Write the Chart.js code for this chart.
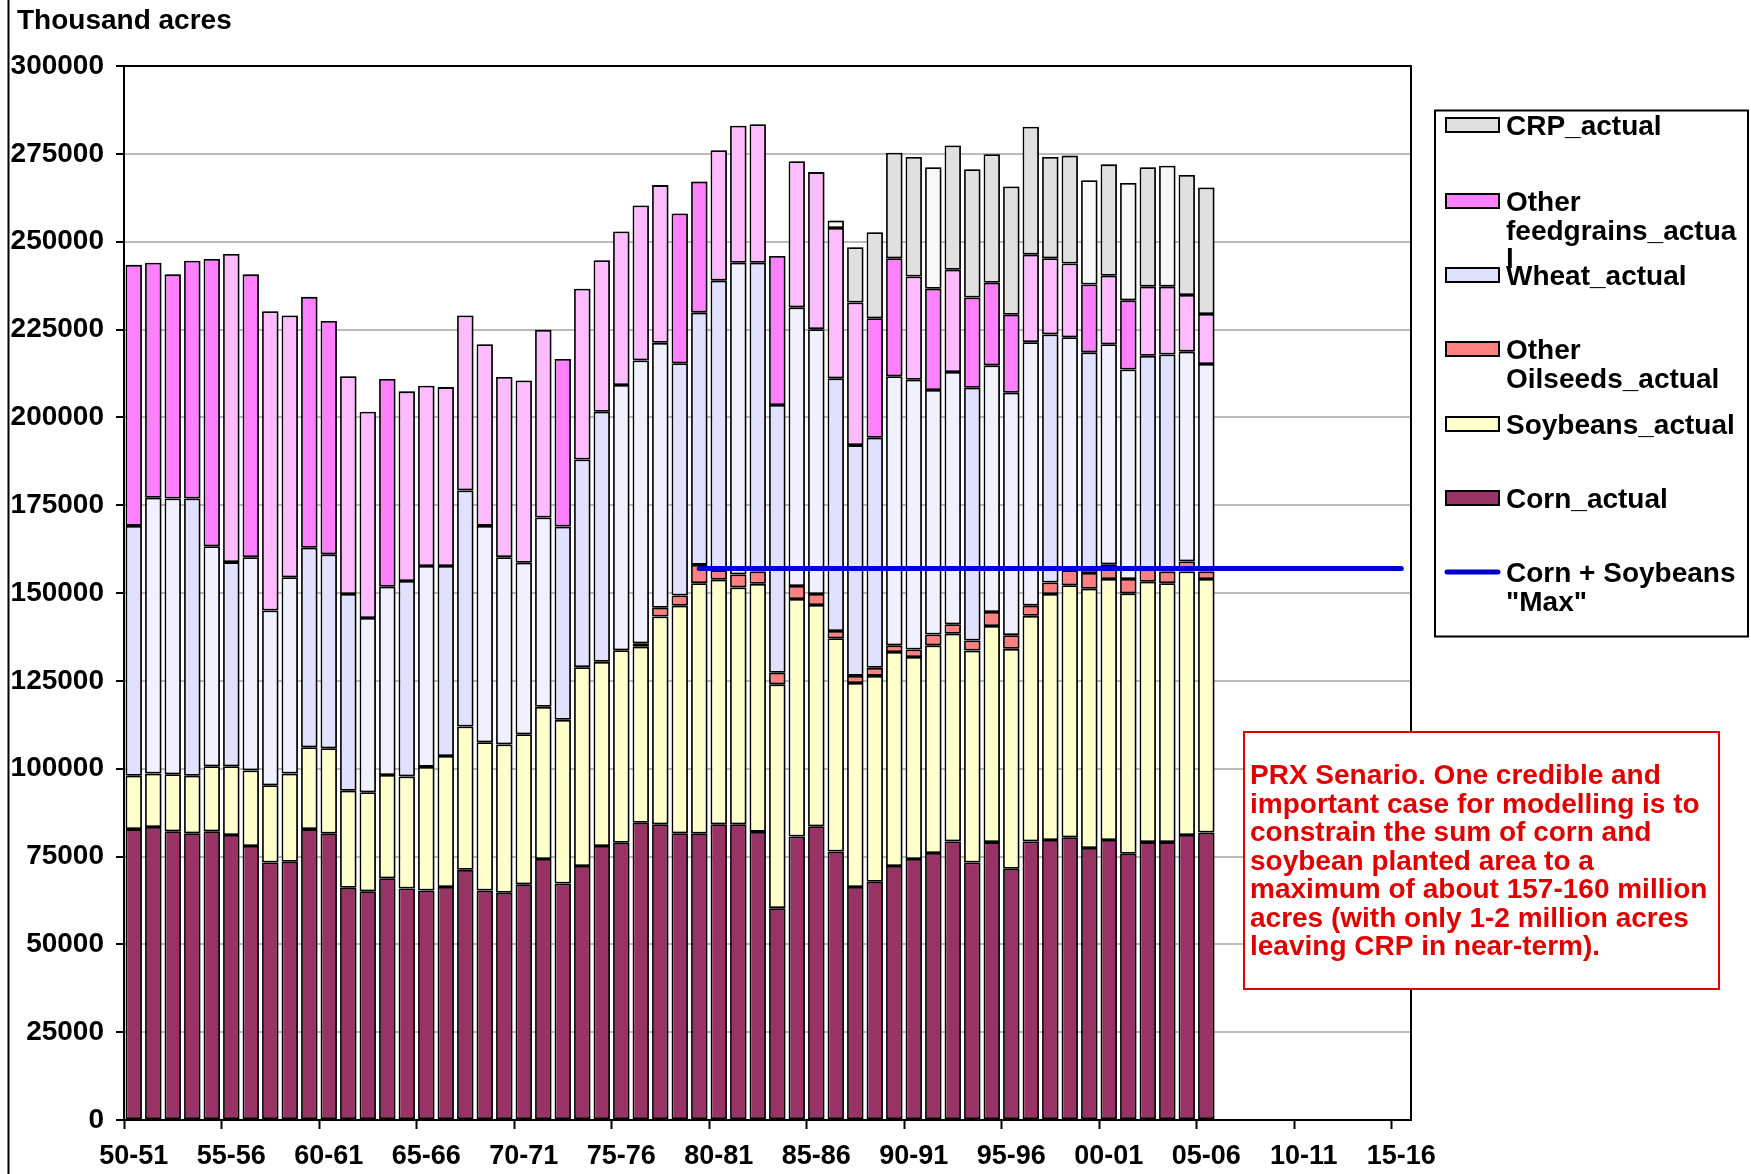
<!DOCTYPE html>
<html>
<head>
<meta charset="utf-8">
<title>Planted area</title>
<script src="https://cdn.jsdelivr.net/npm/chart.js@4.4.1/dist/chart.umd.min.js"></script>
<style>
  html, body { margin: 0; padding: 0; background: #fff; }
  #wrap { width: 1751px; height: 1174px; }
</style>
</head>
<body>
<div id="wrap"><canvas id="chart" width="1751" height="1174"></canvas></div>
<script>
// crop years on the x axis (bars only up to 05-06)
const seasons = ['50-51','51-52','52-53','53-54','54-55','55-56','56-57','57-58','58-59','59-60',
  '60-61','61-62','62-63','63-64','64-65','65-66','66-67','67-68','68-69','69-70',
  '70-71','71-72','72-73','73-74','74-75','75-76','76-77','77-78','78-79','79-80',
  '80-81','81-82','82-83','83-84','84-85','85-86','86-87','87-88','88-89','89-90',
  '90-91','91-92','92-93','93-94','94-95','95-96','96-97','97-98','98-99','99-00',
  '00-01','01-02','02-03','03-04','04-05','05-06','06-07','07-08','08-09','09-10',
  '10-11','11-12','12-13','13-14','14-15','15-16'];

// thousand acres
const corn = [82800,83400,82200,81600,82200,81100,78000,73300,73500,82800,
  81500,66100,65100,68800,65900,65300,66300,71200,65300,64700,
  67100,74300,67300,72300,78000,78900,84600,84200,81600,81500,
  84200,84200,82000,60300,80700,83600,76400,66300,67800,72300,
  74300,76000,79300,73300,79100,71500,79300,79700,80500,77400,
  79700,75800,79100,79100,81100,81800];

const soybeans = [15200,15200,16200,16400,18500,19600,21500,22000,25100,23300,
  24300,27600,28200,29400,31900,35200,37300,40800,42200,42200,
  42700,43300,46600,56600,52400,54800,50100,59100,64800,71300,
  69600,67400,70600,63700,67600,63000,60700,58100,58600,60900,
  57500,59100,59100,60300,61500,62600,64200,70000,71700,73800,
  74300,74100,74100,73700,75000,72200];

const otherOilseeds = [null,null,null,null,null,null,null,null,null,null,
  null,null,null,null,null,null,null,null,null,null,
  null,null,null,null,null,null,1000,2500,2900,5200,
  2700,3700,3500,3300,3700,3100,2100,2000,2300,1900,
  2100,3100,2700,2900,4000,3900,2900,3300,4300,4500,
  4200,4100,3500,3300,2900,2100];

const wheat = [71100,78500,78500,78900,62600,58100,60700,49700,55900,56800,
  55200,56000,49600,53600,55600,57200,54100,67200,61600,53300,
  48800,53900,55000,59100,71200,75500,80500,75400,66100,71800,
  82400,88700,87900,76200,79300,75400,71900,65700,65500,76600,
  76800,69600,71800,71900,70200,69000,75000,70600,66300,62800,
  62600,59600,60800,61800,59700,59100];

const otherFeedgrains = [74300,66900,63800,67700,81800,87700,80500,85200,74500,71400,
  66400,62000,58700,59100,54000,51300,50900,49800,51700,51300,
  51900,53400,47700,48600,43100,43700,44100,44900,42600,37300,
  37100,39000,39400,42400,41600,44700,42800,40600,34000,33600,
  29400,28800,29100,25700,23500,22200,24900,21700,21000,19300,
  19500,19700,19700,19300,16100,14200];

const crp = [null,null,null,null,null,null,null,null,null,null,
  null,null,null,null,null,null,null,null,null,null,
  null,null,null,null,null,null,null,null,null,null,
  null,null,null,null,null,null,2100,15700,24500,30000,
  34000,34600,35400,36500,36600,36500,36400,28800,30700,29700,
  31700,33400,34000,34400,34200,36000];

const cornSoyMax = [null,null,null,null,null,null,null,null,null,null,
  null,null,null,null,null,null,null,null,null,null,
  null,null,null,null,null,null,null,null,null,157000,
  157000,157000,157000,157000,157000,157000,157000,157000,157000,157000,
  157000,157000,157000,157000,157000,157000,157000,157000,157000,157000,
  157000,157000,157000,157000,157000,157000,157000,157000,157000,157000,
  157000,157000,157000,157000,157000,157000];

const yTicks = [0,25000,50000,75000,100000,125000,150000,175000,200000,225000,250000,275000,300000];

const noteLines = ['PRX Senario. One credible and',
  'important case for modelling is to',
  'constrain the sum of corn and',
  'soybean planted area to a',
  'maximum of about 157-160 million',
  'acres (with only 1-2 million acres',
  'leaving CRP in near-term).'];

// the original file shades some bars a little lighter / darker
const feedPale = [5,7,8,11,12,14,15,16,17,18,19,20,21,23,24,25,26,27,30,31,32,34,35,36,37,40,42,46,47,48,50,52,53,54,55];
const wheatDeep = [0,3,5,9,10,11,14,16,17,22,23,24,28,29,30,32,33,36,37,38,43,47,49,52,53];
const crpPale = [36,41,49,51,53];

const FONT = '"Liberation Sans", Arial, sans-serif';
const pick = (list, yes, no) => (c) => list.includes(c.dataIndex) ? yes : no;

const barStyle = {
  type: 'bar',
  order: 1,
  borderColor: '#000',
  borderWidth: 1.8,
  borderSkipped: false,
  barPercentage: 0.84,
  categoryPercentage: 1
};

// bar shadow, like the excel original
const barShadow = {
  id: 'barShadow',
  beforeDatasetDraw(chart, args) {
    if (args.meta.type !== 'bar') return;
    const c = chart.ctx;
    c.save();
    c.shadowColor = 'rgba(0,0,0,0.4)';
    c.shadowOffsetX = 2.5;
    c.shadowOffsetY = 0;
    c.shadowBlur = 0;
  },
  afterDatasetDraw(chart, args) {
    if (args.meta.type !== 'bar') return;
    chart.ctx.restore();
  }
};

const legendItems = [
  { lines: ['CRP_actual'], fill: '#E0E0E0', y: 125 },
  { lines: ['Other', 'feedgrains_actua', 'l'], fill: '#FF80FF', y: 201 },
  { lines: ['Wheat_actual'], fill: '#E0E0FF', y: 275 },
  { lines: ['Other', 'Oilseeds_actual'], fill: '#FF8080', y: 349 },
  { lines: ['Soybeans_actual'], fill: '#FFFFCC', y: 424 },
  { lines: ['Corn_actual'], fill: '#993366', y: 498 },
  { lines: ['Corn + Soybeans', '"Max"'], line: '#0000CC', y: 572 }
];

const decor = {
  id: 'decor',
  beforeDraw(chart) {
    const c = chart.ctx;
    c.save();
    c.fillStyle = '#fff';
    c.fillRect(0, 0, chart.width, chart.height);
    c.restore();
  },
  afterDraw(chart) {
    const c = chart.ctx;
    const a = chart.chartArea;
    c.save();

    // frame of the plot area
    c.strokeStyle = '#000';
    c.lineWidth = 2;
    c.strokeRect(a.left, a.top, a.right - a.left, a.bottom - a.top);

    // cut-off chart frame on the far left
    c.beginPath();
    c.moveTo(8.5, 0);
    c.lineTo(8.5, chart.height);
    c.stroke();

    c.fillStyle = '#000';
    c.font = 'bold 28px ' + FONT;
    c.textBaseline = 'middle';
    c.textAlign = 'left';
    c.fillText('Thousand acres', 17, 21);

    // legend
    c.fillStyle = '#fff';
    c.fillRect(1435, 110.5, 313, 526);
    c.lineWidth = 2;
    c.strokeRect(1435, 110.5, 313, 526);
    legendItems.forEach(it => {
      if (it.line) {
        c.strokeStyle = it.line;
        c.lineWidth = 5;
        c.lineCap = 'round';
        c.beginPath();
        c.moveTo(1447, it.y);
        c.lineTo(1498, it.y);
        c.stroke();
        c.lineCap = 'butt';
      } else {
        c.fillStyle = it.fill;
        c.fillRect(1446, it.y - 7, 53, 14);
        c.strokeStyle = '#000';
        c.lineWidth = 2;
        c.strokeRect(1446, it.y - 7, 53, 14);
      }
      c.fillStyle = '#000';
      it.lines.forEach((t, k) => c.fillText(t, 1506, it.y + 2.5 + k * 28.5));
    });

    // note box, white behind the text
    c.fillStyle = '#fff';
    c.fillRect(1244, 732, 475, 257);
    c.strokeStyle = '#E00000';
    c.lineWidth = 2;
    c.strokeRect(1244, 732, 475, 257);
    c.fillStyle = '#E00000';
    noteLines.forEach((t, k) => c.fillText(t, 1250, 776.5 + k * 28.5));

    c.restore();
  }
};

new Chart(document.querySelector('#chart'), {
  data: {
    labels: seasons,
    datasets: [
      { ...barStyle, label: 'Corn_actual', data: corn, backgroundColor: '#993366' },
      { ...barStyle, label: 'Soybeans_actual', data: soybeans, backgroundColor: '#FFFFCC' },
      { ...barStyle, label: 'Other Oilseeds_actual', data: otherOilseeds, backgroundColor: '#FF8080' },
      { ...barStyle, label: 'Wheat_actual', data: wheat, backgroundColor: pick(wheatDeep, '#E0E0FF', '#F0F0FF') },
      { ...barStyle, label: 'Other feedgrains_actual', data: otherFeedgrains, backgroundColor: pick(feedPale, '#FFBBFF', '#FF80FF') },
      { ...barStyle, label: 'CRP_actual', data: crp, backgroundColor: pick(crpPale, '#F8F8F8', '#E0E0E0') },
      {
        type: 'line',
        order: 0,
        label: 'Corn + Soybeans "Max"',
        data: cornSoyMax,
        borderColor: '#0000CC',
        borderWidth: 5,
        borderCapStyle: 'round',
        pointRadius: 0,
        fill: false
      }
    ]
  },
  options: {
    responsive: false,
    animation: false,
    devicePixelRatio: 1,
    layout: { padding: { left: 0, right: 340, top: 66, bottom: 0 } },
    plugins: {
      legend: { display: false },
      tooltip: { enabled: false }
    },
    scales: {
      x: {
        stacked: true,
        afterFit: s => { s.height = 54; },
        border: { display: true, color: '#000', width: 2 },
        grid: {
          offset: true,
          drawOnChartArea: false,
          tickLength: 9,
          tickWidth: 2,
          tickColor: c => c.index % 5 === 0 ? '#000' : 'rgba(0,0,0,0)'
        },
        ticks: {
          autoSkip: false,
          maxRotation: 0,
          padding: 11,
          color: '#000',
          font: { family: FONT, size: 27, weight: 'bold' },
          callback: (v, i) => i % 5 === 0 ? seasons[i] : ''
        }
      },
      y: {
        stacked: true,
        min: 0,
        max: 300000,
        afterFit: s => { s.width = 124; },
        afterBuildTicks: s => { s.ticks = yTicks.map(v => ({ value: v })); },
        border: { display: true, color: '#000', width: 2 },
        grid: { color: '#BBBBBB', lineWidth: 2, tickLength: 8, tickColor: '#000' },
        ticks: {
          padding: 12,
          color: '#000',
          font: { family: FONT, size: 28, weight: 'bold' },
          callback: v => String(v)
        }
      }
    }
  },
  plugins: [barShadow, decor]
});
</script>
</body>
</html>
